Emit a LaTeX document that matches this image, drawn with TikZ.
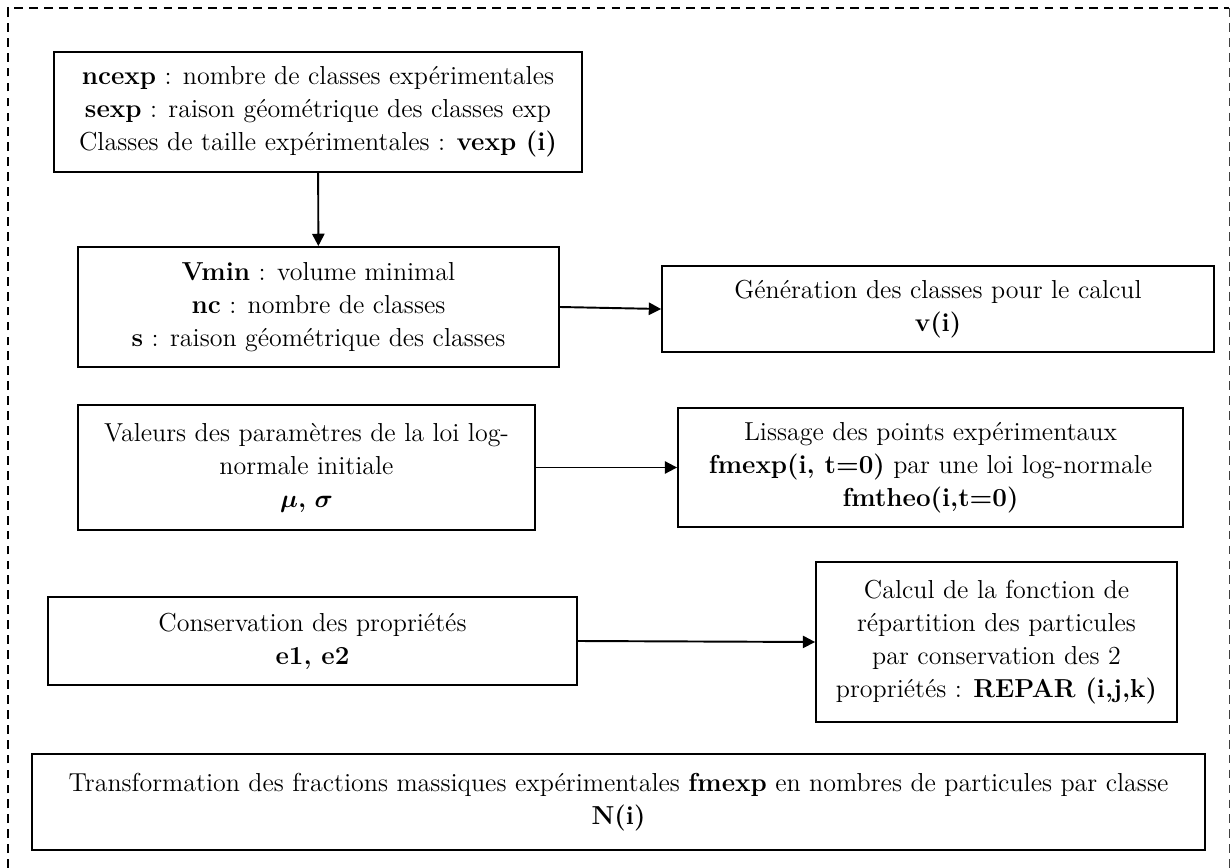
\documentclass[tikz,border=0pt]{standalone}
\usepackage{amsmath}
\usepackage{bm}
\usetikzlibrary{arrows.meta}

\begin{document}
\begin{tikzpicture}[x=0.02cm, y=-0.02cm,
  every node/.style={font=\fontsize{14.8}{18.8}\selectfont},
  box/.style={draw, line width=1.1pt, align=center, inner sep=0pt},
  flow/.style={line width=1.1pt, -{Triangle[length=7pt,width=7pt]}},
  frame/.style={line width=0.8pt, dash pattern=on 5pt off 3.5pt}]
\useasboundingbox (0,0) rectangle (1231,868);
% dashed frame (bottom edge runs off the page)
\draw[frame] (8,868) -- (8,8) -- (1229,8);
\draw[frame, line width=0.5pt, black!75] (1229,8) -- (1229,868);

\node[box, minimum width=10.56cm, minimum height=2.4cm] (exp) at (318,112)
  {\textbf{ncexp} : nombre de classes expérimentales\\
   \textbf{sexp} : raison géométrique des classes exp\\
   Classes de taille expérimentales : \textbf{vexp (i)}};
\node[box, minimum width=9.62cm, minimum height=2.4cm] (calc) at (318.5,307)
  {\textbf{Vmin} : volume minimal\\
   \textbf{nc} : nombre de classes\\
   \textbf{s} : raison géométrique des classes};
\node[box, minimum width=11.04cm, minimum height=1.72cm] (gen) at (938,309)
  {Génération des classes pour le calcul\\ \textbf{v(i)}};
\node[box, minimum width=9.14cm, minimum height=2.5cm] (param) at (306.5,467.5)
  {Valeurs des paramètres de la loi log-\\ normale initiale\\
   $\bm{\mu}$\textbf{,} $\bm{\sigma}$};
\node[box, minimum width=10.1cm, minimum height=2.38cm] (liss) at (930.5,467.5)
  {Lissage des points expérimentaux\\
   \textbf{fmexp(i, t=0)} par une loi log-normale\\
   \textbf{fmtheo(i,t=0)}};
\node[box, minimum width=10.58cm, minimum height=1.76cm] (cons) at (312.5,641)
  {Conservation des propriétés\\ \textbf{e1, e2}};
\node[box, minimum width=7.22cm, minimum height=3.2cm] (repar) at (996.5,642)
  {Calcul de la fonction de\\ répartition des particules\\
   par conservation des 2\\ propriétés : \textbf{REPAR (i,j,k)}};
\node[box, minimum width=23.46cm, minimum height=1.92cm] (nbre) at (618.5,802)
  {Transformation des fractions massiques expérimentales \textbf{fmexp} en nombres de particules par classe\\
   \textbf{N(i)}};

\draw[flow] (exp) -- (calc);
\draw[flow] (calc.east) -- (gen.west);
\draw[flow] (param) -- (liss);
\draw[flow] (cons.east) -- (repar.west);
\end{tikzpicture}
\end{document}
